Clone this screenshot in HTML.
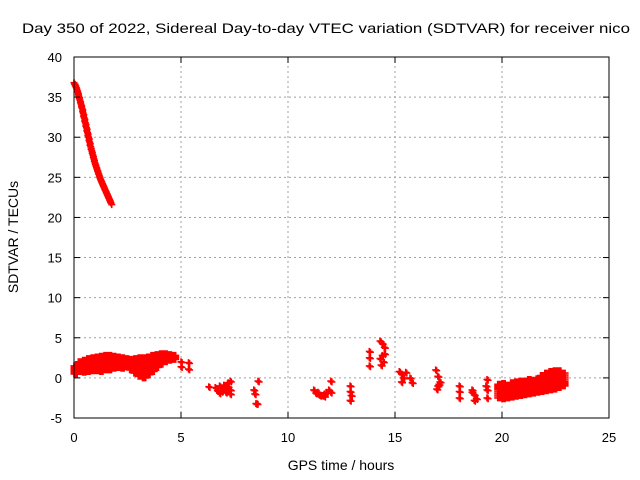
<!DOCTYPE html>
<html><head><meta charset="utf-8"><style>
html,body{margin:0;padding:0;background:#fff}
svg{display:block;font-family:"Liberation Sans",sans-serif}
</style></head><body>
<svg id="chart" width="640" height="480">
<rect x="0" y="0" width="640" height="480" fill="#fff"/>
<g id="grid"></g>
<g id="pts"></g>
<rect x="74" y="57" width="535" height="361" fill="none" stroke="#000" stroke-width="1"/>
<g id="axes" font-size="13" fill="#000"></g>
<text x="326" y="33" font-size="14" text-anchor="middle" textLength="608" lengthAdjust="spacingAndGlyphs">Day 350 of 2022, Sidereal Day-to-day VTEC variation (SDTVAR) for receiver nico</text>
<text x="341" y="470" font-size="14" text-anchor="middle">GPS time / hours</text>
<text x="18" y="237" font-size="14" text-anchor="middle" transform="rotate(-90 18 237)">SDTVAR / TECUs</text>
</svg>
<script>
const xTicks=[0,5,10,15,20,25];
const yTicks=[-5,0,5,10,15,20,25,30,35,40];
const arcX=[0.0,0.05,0.1,0.15,0.2,0.25,0.3,0.35,0.4,0.45,0.5,0.55,0.6,0.65,0.7,0.75,0.8,0.85,0.9,0.95,1.0,1.05,1.1,1.15,1.2,1.25,1.3,1.35,1.4,1.45,1.5,1.55,1.6,1.65,1.7];
const arcY=[36.8,36.6,36.2,35.8,35.3,34.8,34.3,33.8,33.2,32.6,32.0,31.4,30.8,30.2,29.6,29.0,28.5,28.0,27.5,27.0,26.6,26.2,25.8,25.4,25.0,24.7,24.4,24.1,23.8,23.5,23.2,22.9,22.6,22.3,22.0];
const bandX=[0.0,0.2,0.4,0.6,0.8,1.0,1.2,1.4,1.6,1.8,2.0,2.2,2.4,2.6,2.8,3.0,3.2,3.4,3.6,3.8,4.0,4.2,4.4,4.6];
const bandLo=[0.5,0.8,0.7,0.8,0.9,0.9,0.8,1.0,1.0,1.2,1.3,1.2,1.4,1.0,0.6,0.2,0.0,0.4,0.8,1.3,1.7,2.0,2.2,2.3];
const bandMid=[1.0,1.5,1.3,1.6,1.7,1.8,1.8,1.9,2.0,2.1,2.0,1.8,2.2,1.6,2.0,2.2,1.2,2.3,2.2,2.5,2.4,2.6,2.8,2.6];
const bandHi=[1.5,2.0,2.2,2.4,2.5,2.6,2.7,2.8,2.8,2.7,2.6,2.5,2.4,2.3,2.4,2.5,2.5,2.6,2.8,2.9,3.0,3.0,2.9,2.8];
const lateX=[19.8,20.0,20.2,20.4,20.6,20.8,21.0,21.2,21.4,21.6,21.8,22.0,22.2,22.4,22.6,22.8];
const lateLo=[-2.5,-2.6,-2.5,-2.4,-2.3,-2.2,-2.1,-2.0,-1.9,-1.8,-1.7,-1.6,-1.5,-1.4,-1.2,-1.0];
const lateMid=[-1.5,-1.8,-1.5,-1.6,-1.2,-1.4,-0.9,-1.2,-1.0,-0.7,-0.5,-0.9,-0.3,-0.4,-0.2,-0.4];
const lateHi=[-0.8,-0.7,-0.9,-0.6,-0.5,-0.4,-0.4,-0.2,-0.3,-0.1,0.3,0.6,0.8,0.9,0.9,0.6];
const scatX=[5.0,5.0,5.35,5.35,6.3,6.6,6.7,6.8,6.9,7.0,7.1,7.2,7.3,7.3,7.3,6.8,7.0,7.2,8.4,8.45,8.5,8.55,8.6,11.2,11.3,11.4,11.5,11.6,11.7,11.8,11.9,12.0,12.0,11.4,11.7,12.9,12.9,12.95,12.9,13.8,13.8,13.8,14.3,14.4,14.5,14.4,14.3,14.45,14.35,14.5,15.2,15.3,15.4,15.3,15.5,15.7,15.8,16.9,17.0,17.1,17.0,16.95,17.05,18.0,18.0,18.0,18.6,18.7,18.8,18.7,18.6,19.3,19.3,19.3,19.25];
const scatY=[2.0,1.4,1.9,1.1,-1.1,-1.2,-1.6,-1.0,-1.7,-1.3,-1.8,-1.1,-0.4,-1.5,-2.0,-1.9,-0.9,-0.6,-1.5,-2.0,-3.2,-3.2,-0.4,-1.5,-1.9,-2.0,-2.2,-2.2,-2.0,-1.8,-1.5,-0.4,-1.8,-1.8,-2.3,-1.0,-1.7,-2.2,-2.8,3.3,2.5,1.5,4.6,4.3,3.8,2.8,2.4,2.0,1.6,3.0,0.8,0.5,0.0,-0.5,0.7,0.0,-0.6,1.0,0.2,-0.5,-1.0,-1.4,-0.8,-1.0,-1.7,-2.5,-1.5,-2.1,-2.6,-2.8,-1.8,-0.2,-1.5,-2.5,-1.0];

const X0=74,X1=609,Y0=418,Y1=57;
const sx=v=>X0+(v-0)/(25-0)*(X1-X0);
const sy=v=>Y0-(v+5)/(45)*(Y0-Y1);
const NS='http://www.w3.org/2000/svg';
const grid=document.getElementById('grid'),axes=document.getElementById('axes'),pts=document.getElementById('pts');
function mk(tag,attrs,parent){const e=document.createElementNS(NS,tag);for(const k in attrs)e.setAttribute(k,attrs[k]);parent.appendChild(e);return e;}
xTicks.forEach(t=>{const x=sx(t);
 if(t>0&&t<25){const g=mk('line',{x1:x,x2:x,y1:Y0,y2:Y1,stroke:'#a0a0a0','stroke-dasharray':'2,3'},grid);
 
 }
 mk('line',{x1:x,x2:x,y1:Y0,y2:Y0-6,stroke:'#000'},axes);
 mk('line',{x1:x,x2:x,y1:Y1,y2:Y1+6,stroke:'#000'},axes);
 const l=mk('text',{x:x,y:Y0+24,'text-anchor':'middle'},axes);l.textContent=t;
 
 
});
yTicks.forEach(t=>{const y=sy(t);
 if(t>-5&&t<40){const g=mk('line',{x1:X0,x2:X1,y1:y,y2:y,stroke:'#a0a0a0','stroke-dasharray':'2,3'},grid);
 
 }
 mk('line',{x1:X0,x2:X0+6,y1:y,y2:y,stroke:'#000'},axes);
 mk('line',{x1:X1,x2:X1-6,y1:y,y2:y,stroke:'#000'},axes);
 const l=mk('text',{x:X0-12,y:y+5,'text-anchor':'end'},axes);l.textContent=t;
 
 
});
let d='';
function plus(xv,yv){const x=sx(xv),y=sy(yv);d+=`M${(x-3.5).toFixed(1)} ${y.toFixed(1)}h7M${x.toFixed(1)} ${(y-3.5).toFixed(1)}v7`;}
arcX.forEach((x,i)=>{plus(x,arcY[i]);plus(x+0.03,arcY[i]-0.2);plus(x+0.06,arcY[i]-0.4);});
function band(xs,lo,mid,hi){xs.forEach((x,i)=>{const a=lo[i],m=mid[i],b=hi[i];
 [a,(3*a+m)/4,(a+m)/2,(a+3*m)/4,m,(3*m+b)/4,(m+b)/2,(m+3*b)/4,b].forEach(v=>{plus(x,v);plus(x+0.05,v);plus(x+0.1,v);plus(x+0.15,v);});});}
band(bandX,bandLo,bandMid,bandHi);
band(lateX,lateLo,lateMid,lateHi);
scatX.forEach((x,i)=>{plus(x,scatY[i]);plus(x+0.05,scatY[i]-0.1);});
const p=mk('path',{d:d,stroke:'#ff0000','stroke-width':'1.6',fill:'none'},pts);


</script>
</body></html>
